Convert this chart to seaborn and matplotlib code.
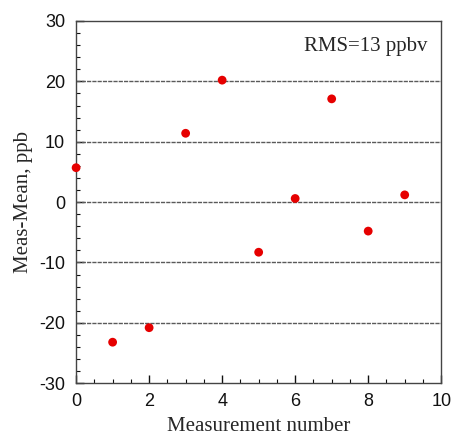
import matplotlib
matplotlib.use("Agg")
import matplotlib.pyplot as plt
import seaborn as sns
import pandas as pd
from matplotlib.ticker import MultipleLocator

measurement = [0, 1, 2, 3, 4, 5, 6, 7, 8, 9]
deviation = [5.7, -23.2, -20.8, 11.4, 20.2, -8.3, 0.6, 17.1, -4.8, 1.2]
x_ticks = [0, 2, 4, 6, 8, 10]
y_ticks = [-30, -20, -10, 0, 10, 20, 30]
grid_levels = [-20, -10, 0, 10, 20]

sns.set_style("ticks")
plt.rcParams['font.family'] = ['Liberation Sans', 'DejaVu Sans']
plt.rcParams['axes.unicode_minus'] = False

df = pd.DataFrame({"Measurement number": measurement, "Meas-Mean": deviation})

fig = plt.figure(figsize=(4.53, 4.37), dpi=100)
ax = fig.add_axes([0.168, 0.123, 0.806, 0.829])

for g in grid_levels:
    ax.axhline(g, color="#5a5a5a", lw=1.0, ls=(0, (3, 0.8)), zorder=1)

sns.scatterplot(data=df, x="Measurement number", y="Meas-Mean", ax=ax,
                color="#e60000", s=40, edgecolor="none", zorder=3, legend=False,
                clip_on=False)

ax.set_xlim(0, 10)
ax.set_ylim(-30, 30)
ax.set_xticks(x_ticks)
ax.set_yticks(y_ticks)
ax.xaxis.set_minor_locator(MultipleLocator(0.5))
ax.yaxis.set_minor_locator(MultipleLocator(2))
ax.tick_params(which="both", direction="in", top=False, right=False,
               labelsize=13, colors="#111111")
ax.tick_params(axis="x", which="major", pad=7)
ax.tick_params(axis="y", which="major", pad=8)
ax.tick_params(which="major", length=6, width=1)
ax.tick_params(which="minor", length=3, width=0.8)
for sp in ax.spines.values():
    sp.set_color("#444444")
    sp.set_linewidth(1.0)

ax.set_xlabel("Measurement number", family="Liberation Serif", fontsize=15, labelpad=5)
ax.set_ylabel("Meas-Mean, ppb", family="Liberation Serif", fontsize=15, labelpad=4)
ax.text(0.962, 0.93, "RMS=13 ppbv", transform=ax.transAxes, ha="right", va="center",
        family="Liberation Serif", fontsize=15)

fig.savefig("out.png", dpi=100)
